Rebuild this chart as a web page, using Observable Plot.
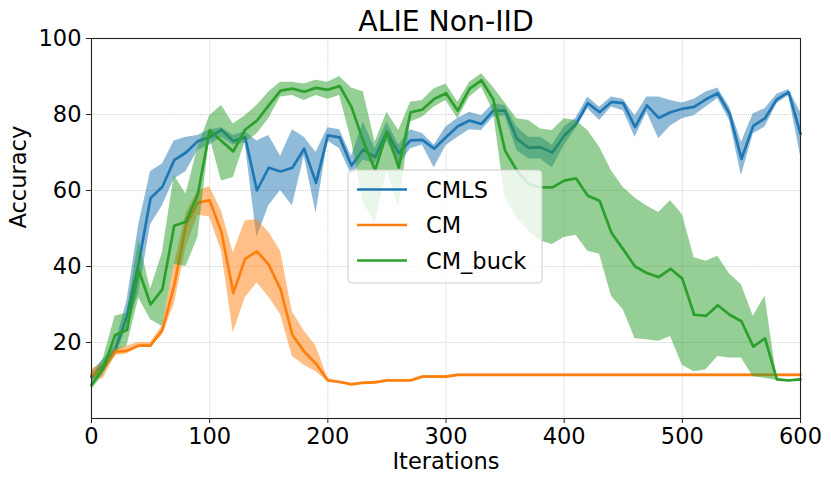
<!DOCTYPE html>
<html><head><meta charset="utf-8">
<script src="https://cdn.jsdelivr.net/npm/d3@7"></script>
<script src="https://cdn.jsdelivr.net/npm/@observablehq/plot@0.6"></script>
<style>
html,body{margin:0;padding:0;background:#fff;}
#chart{width:831px;height:485px;}
</style></head><body><div id="chart"></div>
<script>
const iterations = [0,10,20,30,40,50,60,70,80,90,100,110,120,130,140,150,160,170,180,190,200,210,220,230,240,250,260,270,280,290,300,310,320,330,340,350,360,370,380,390,400,410,420,430,440,450,460,470,480,490,500,510,520,530,540,550,560,570,580,590,600];

const cmlsMean = [11,14,18,27,41,58,61,68,70,73,74,76,73,74,60,66,65,66,71,62,74.5,74,66.5,70.8,68.8,75.5,69.8,73.2,73.3,71,74,76.9,78.4,77.5,81,81,73.6,71.2,71.4,70,74.4,77.5,83,80.6,83.3,83,76.7,82.4,79.1,80.6,81.5,82,84,85.6,80.2,68.3,77,79,84,85.9,74.9];
const cmlsLow = [9.7,12.5,16.3,24,33,51,56,63,65,70.5,72,74,72,72.5,47.6,56,60,56,69,54,73,71,64,68,67,73,66.5,71,72,66,71.8,74,76,75.8,79.3,79.7,70.5,68.3,68.3,66,71.8,76.3,81.5,78.4,82,81,74,80.6,73.6,77,78.9,79.7,82,84.2,78.4,63.9,74.9,76.7,82.8,85,69.2];
const cmlsHigh = [12.3,15.5,19.4,31,51,65,67,73,74,74.5,76,76.5,74.5,75.5,73,74.5,69,76,74,70,76.5,76,69,78,71,78,72,76,75,72,76.7,79,80.6,79.7,82.8,82.4,76.7,74,74,72,76.7,79,84.6,81.9,84.6,84,79.7,84.6,84.6,83.7,83,84,85.9,87,81.9,72.7,80.2,81.5,85.3,86.6,80.6];

const cmMean = [11.5,13,17.6,17.8,19.2,19.2,23.3,35,51,56.8,57.4,49,33,42,44,40.5,34,22,17.6,14.4,10,9.6,9,9.4,9.5,10,10,10,11,11,11,11.5,11.5,11.5,11.5,11.5,11.5,11.5,11.5,11.5,11.5,11.5,11.5,11.5,11.5,11.5,11.5,11.5,11.5,11.5,11.5,11.5,11.5,11.5,11.5,11.5,11.5,11.5,11.5,11.5,11.5];
const cmLow = [10,10.5,16.5,17,18.8,18.8,22,30,45,53.5,53,44,22.5,31.7,35.7,32,27.3,16.3,14,12.3,9.7,9.3,8.8,9.1,9.2,9.7,9.7,9.7,10.7,10.7,10.7,11.3,11.3,11.3,11.3,11.3,11.3,11.3,11.3,11.3,11.3,11.3,11.3,11.3,11.3,11.3,11.3,11.3,11.3,11.3,11.3,11.3,11.3,11.3,11.3,11.3,11.3,11.3,11.3,11.3,11.3];
const cmHigh = [13,14.5,18.5,19,20,20,24.5,40.5,54,60,61,54.6,43.6,52,52.4,49,44,28,23,19,10.5,9.9,9.3,9.7,9.8,10.3,10.3,10.3,11.3,11.3,11.3,11.7,11.7,11.7,11.7,11.7,11.7,11.7,11.7,11.7,11.7,11.7,11.7,11.7,11.7,11.7,11.7,11.7,11.7,11.7,11.7,11.7,11.7,11.7,11.7,11.7,11.7,11.7,11.7,11.7,11.7];

const buckMean = [8.8,13.2,22,23.3,39,30,34,50.7,51.8,59,75.8,73,70.3,76,78.4,82.4,86.3,86.8,86,87,86.5,87.5,82,73,65.3,75.4,66,80.6,81.3,84.1,85.6,81,86.8,89,84,70.5,65.2,61.7,60.8,60.8,62.6,63.2,58.6,57.3,48.9,44.5,40,38.3,37.2,39.4,36.8,27.3,27,29.8,27.3,25.6,18.9,21.1,10.3,10,10.3];
const buckLow = [7.5,11.5,17.6,19,31.7,26,24.2,40.5,40,47.6,74,62.5,63.4,72.7,74.9,78.9,84.6,85,83.7,85,84,85,73,57,51.3,65.3,55.6,78,79.3,82,83.7,78.9,84.6,87.2,81,58,52.9,49.3,46.7,45.8,47.6,48.2,44,43.2,32.2,28.6,21,20.7,20.3,21.6,14,12.3,12.8,16.3,15.9,15.9,11,10.6,10,9.8,10];
const buckHigh = [10.5,15.8,27,27.7,47,34,43.6,64,59,71.4,79.7,82.4,77.5,79.7,82.4,85.9,88.5,88.5,88,89,88.5,90,87,86,72.7,80.6,75.8,83.2,83.7,86.8,88,83.2,88.5,90.7,87.2,83,78.9,78.4,76.2,75.8,78.9,78.4,75.8,71.4,65.2,60.8,58,55.9,54.2,57.3,53.7,42.3,41.4,42.7,38,35.2,26.9,32.2,10.6,10.2,10.6];

const seriesNames = ["CMLS", "CM", "CM_buck"];
const seriesColors = ["#1f77b4", "#ff7f0e", "#2ca02c"];
const xTicks = [0,100,200,300,400,500,600];
const yTicks = [20,40,60,80,100];
const xGrid = [100,200,300,400,500];
const yGrid = [20,40,60,80];

const seriesData = [
  [cmlsMean, cmlsLow, cmlsHigh],
  [cmMean, cmLow, cmHigh],
  [buckMean, buckLow, buckHigh]
];

const FONT = "DejaVu Sans";
const marks = [
  Plot.gridX(xGrid, {stroke: "#b0b0b0", strokeOpacity: 1, strokeWidth: 0.8, strokeDasharray: "0.8,1.3"}),
  Plot.gridY(yGrid, {stroke: "#b0b0b0", strokeOpacity: 1, strokeWidth: 0.8, strokeDasharray: "0.8,1.3"})
];
seriesData.forEach(([m, lo, hi], k) => {
  const rows = iterations.map((x, i) => ({x, m: m[i], lo: lo[i], hi: hi[i]}));
  marks.push(Plot.line(rows, {x: "x", y: "m", stroke: seriesColors[k], strokeWidth: 2.7}));
  marks.push(Plot.areaY(rows, {x: "x", y1: "lo", y2: "hi", fill: seriesColors[k], fillOpacity: 0.5}));
});
marks.push(
  Plot.frame({stroke: "#222", strokeWidth: 1.1}),
  Plot.axisX(xTicks, {tickSize: 5, tickPadding: 5, label: null, fontSize: 22.5, stroke: "#222"}),
  Plot.axisY(yTicks, {tickSize: 5, tickPadding: 5, label: null, fontSize: 22.5, stroke: "#222"}),
  Plot.text(["ALIE Non-IID"], {frameAnchor: "top", lineAnchor: "middle", dy: -17, fontSize: 28.3, fill: "black"}),
  Plot.text(["Iterations"], {frameAnchor: "bottom", lineAnchor: "middle", dy: 43.5, fontSize: 22.5, fill: "black"}),
  Plot.text(["Accuracy"], {frameAnchor: "left", lineAnchor: "middle", dx: -72.5, rotate: -90, fontSize: 22.5, fill: "black"})
);

const chart = Plot.plot({
  width: 831, height: 485,
  marginLeft: 91, marginRight: 31, marginTop: 38, marginBottom: 67,
  style: {fontFamily: FONT, fontSize: "22.5px", background: "white", color: "black", overflow: "visible"},
  x: {domain: [0, 600]},
  y: {domain: [0, 100]},
  marks
});

// matplotlib-style legend, drawn into the same SVG
const svg = d3.select(chart);
const lg = svg.append("g").attr("font-family", FONT).attr("font-size", 22.5).attr("text-anchor", "start");
lg.append("rect").attr("x", 348).attr("y", 170).attr("width", 194).attr("height", 113)
  .attr("rx", 4).attr("fill", "white").attr("fill-opacity", 0.8)
  .attr("stroke", "#cccccc").attr("stroke-width", 1);
const rowY = [189.5, 225, 260.5];
seriesNames.forEach((name, k) => {
  lg.append("line").attr("x1", 357).attr("x2", 407).attr("y1", rowY[k]).attr("y2", rowY[k])
    .attr("stroke", seriesColors[k]).attr("stroke-width", 2.7);
  lg.append("text").attr("x", 426).attr("y", rowY[k] + 8.4).attr("fill", "black")
    .attr("text-anchor", "start").text(name);
});

document.getElementById("chart").appendChild(chart);
</script>
</body></html>
